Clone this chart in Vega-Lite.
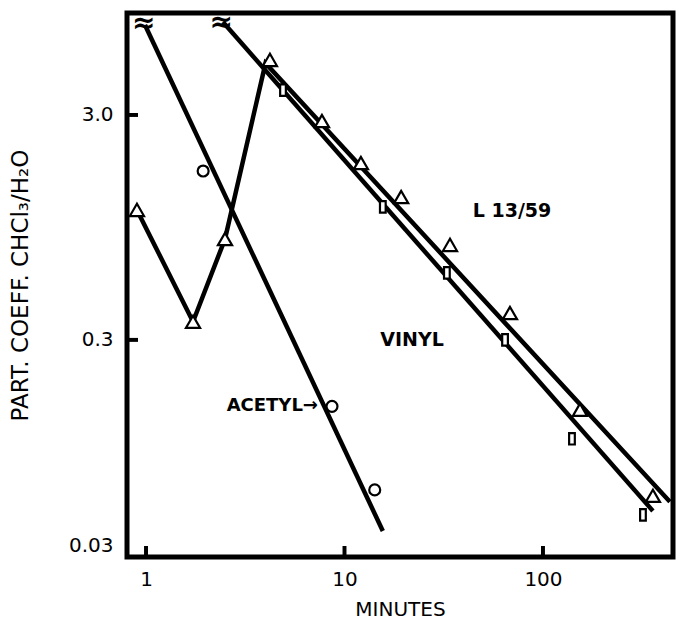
{
  "$schema": "https://vega.github.io/schema/vega-lite/v6.json",
  "width": 546,
  "height": 544,
  "autosize": "none",
  "padding": {"left": 127, "top": 13, "right": 4, "bottom": 73},
  "background": "white",
  "config": {
    "view": {"stroke": "black", "strokeWidth": 5},
    "axis": {
      "domain": false,
      "grid": false,
      "ticks": false,
      "labelFont": "DejaVu Sans",
      "labelFontSize": 20,
      "labelColor": "black",
      "titleFont": "DejaVu Sans",
      "titleFontWeight": "normal",
      "titleColor": "black"
    }
  },
  "datasets": {
    "fits": [
      {"line": "acetyl", "order": 1, "minutes": 0.988, "coeff": 7.54},
      {"line": "acetyl", "order": 2, "minutes": 15.6, "coeff": 0.0424},
      {"line": "vinyl", "order": 1, "minutes": 2.44, "coeff": 7.77},
      {"line": "vinyl", "order": 2, "minutes": 358, "coeff": 0.0521},
      {"line": "l13", "order": 1, "minutes": 0.9, "coeff": 1.135},
      {"line": "l13", "order": 2, "minutes": 1.725, "coeff": 0.361},
      {"line": "l13", "order": 3, "minutes": 2.5, "coeff": 0.843},
      {"line": "l13", "order": 4, "minutes": 4.0, "coeff": 5.1},
      {"line": "l13", "order": 5, "minutes": 436, "coeff": 0.0572}
    ],
    "acetyl": [
      {"minutes": 1.94, "coeff": 1.69},
      {"minutes": 8.65, "coeff": 0.152},
      {"minutes": 14.2, "coeff": 0.0646}
    ],
    "l13": [
      {"minutes": 0.9, "coeff": 1.135},
      {"minutes": 1.725, "coeff": 0.361},
      {"minutes": 2.5, "coeff": 0.843},
      {"minutes": 4.21, "coeff": 5.27},
      {"minutes": 7.7, "coeff": 2.82},
      {"minutes": 12.1, "coeff": 1.835},
      {"minutes": 19.3, "coeff": 1.296},
      {"minutes": 34.0, "coeff": 0.793},
      {"minutes": 68.2, "coeff": 0.395},
      {"minutes": 153.6, "coeff": 0.1467},
      {"minutes": 358, "coeff": 0.0608}
    ],
    "vinyl": [
      {"minutes": 4.9, "coeff": 3.87},
      {"minutes": 15.6, "coeff": 1.171},
      {"minutes": 32.8, "coeff": 0.596},
      {"minutes": 64.4, "coeff": 0.3},
      {"minutes": 140, "coeff": 0.109},
      {"minutes": 319, "coeff": 0.05}
    ],
    "breaks": [
      {"minutes": 0.975, "coeff": 7.6, "text": "≈"},
      {"minutes": 2.39, "coeff": 7.7, "text": "≈"}
    ],
    "xticks": [{"minutes": 1, "coeff": 0.0325}, {"minutes": 10, "coeff": 0.0325}, {"minutes": 100, "coeff": 0.0325}],
    "yticks": [{"minutes": 0.802, "coeff": 0.3}, {"minutes": 0.802, "coeff": 3}],
    "labels": [
      {"kind": "l13", "minutes": 69.8, "coeff": 1.12, "text": "L 13/59"},
      {"kind": "vinyl", "minutes": 21.9, "coeff": 0.3, "text": "VINYL"},
      {"kind": "acetyl", "minutes": 7.35, "coeff": 0.1524, "text": "ACETYL→"}
    ]
  },
  "encoding": {
    "x": {
      "field": "minutes",
      "type": "quantitative",
      "scale": {"type": "log", "domain": [0.802, 452], "nice": false, "zero": false},
      "axis": {
        "values": [1, 10, 100],
        "labelExpr": "format(datum.value, 'd')",
        "labelPadding": 12,
        "title": "MINUTES",
        "titleFontSize": 20,
        "titleY": 52,
        "titleBaseline": "middle"
      }
    },
    "y": {
      "field": "coeff",
      "type": "quantitative",
      "scale": {"type": "log", "domain": [0.0325, 8.52], "nice": false, "zero": false},
      "axis": {
        "values": [0.0364, 0.3, 3],
        "labelExpr": "datum.value < 0.05 ? '0.03' : (datum.value < 1 ? '0.3' : '3.0')",
        "labelPadding": 14,
        "labelBaseline": "middle",
        "title": "PART. COEFF. CHCl₃/H₂O",
        "titleFontSize": 23,
        "titleAngle": -90,
        "titleX": -107,
        "titleY": 272,
        "titleAlign": "center",
        "titleBaseline": "middle"
      }
    }
  },
  "layer": [
    {
      "data": {"name": "fits"},
      "mark": {"type": "line", "color": "black", "strokeWidth": 4.5, "strokeCap": "butt"},
      "encoding": {"detail": {"field": "line"}, "order": {"field": "order", "type": "quantitative"}}
    },
    {
      "data": {"name": "xticks"},
      "mark": {"type": "point", "shape": "M-0.18,-1L0.18,-1L0.18,0L-0.18,0Z", "size": 484, "filled": true, "color": "black", "opacity": 1}
    },
    {
      "data": {"name": "yticks"},
      "mark": {"type": "point", "shape": "M0,-0.18L1,-0.18L1,0.18L0,0.18Z", "size": 484, "filled": true, "color": "black", "opacity": 1}
    },
    {
      "data": {"name": "acetyl"},
      "mark": {"type": "point", "shape": "circle", "size": 120, "filled": true, "fill": "white", "stroke": "black", "strokeWidth": 2.2, "opacity": 1}
    },
    {
      "data": {"name": "l13"},
      "mark": {"type": "point", "shape": "triangle-up", "size": 200, "filled": true, "fill": "white", "stroke": "black", "strokeWidth": 2.2, "opacity": 1}
    },
    {
      "data": {"name": "vinyl"},
      "mark": {"type": "point", "shape": "M-0.5,-1L0.5,-1L0.5,1L-0.5,1Z", "size": 130, "filled": true, "fill": "white", "stroke": "black", "strokeWidth": 2.2, "opacity": 1}
    },
    {
      "data": {"name": "breaks"},
      "mark": {"type": "text", "font": "DejaVu Sans", "fontSize": 28, "fontWeight": "bold", "color": "black", "baseline": "middle"},
      "encoding": {"text": {"field": "text"}}
    },
    {
      "data": {"name": "labels"},
      "transform": [{"filter": "datum.kind !== 'acetyl'"}],
      "mark": {"type": "text", "font": "DejaVu Sans", "fontSize": 19, "fontWeight": "bold", "color": "black"},
      "encoding": {"text": {"field": "text"}}
    },
    {
      "data": {"name": "labels"},
      "transform": [{"filter": "datum.kind === 'acetyl'"}],
      "mark": {"type": "text", "font": "DejaVu Sans", "fontSize": 18, "fontWeight": "bold", "color": "black", "align": "right"},
      "encoding": {"text": {"field": "text"}}
    }
  ]
}
